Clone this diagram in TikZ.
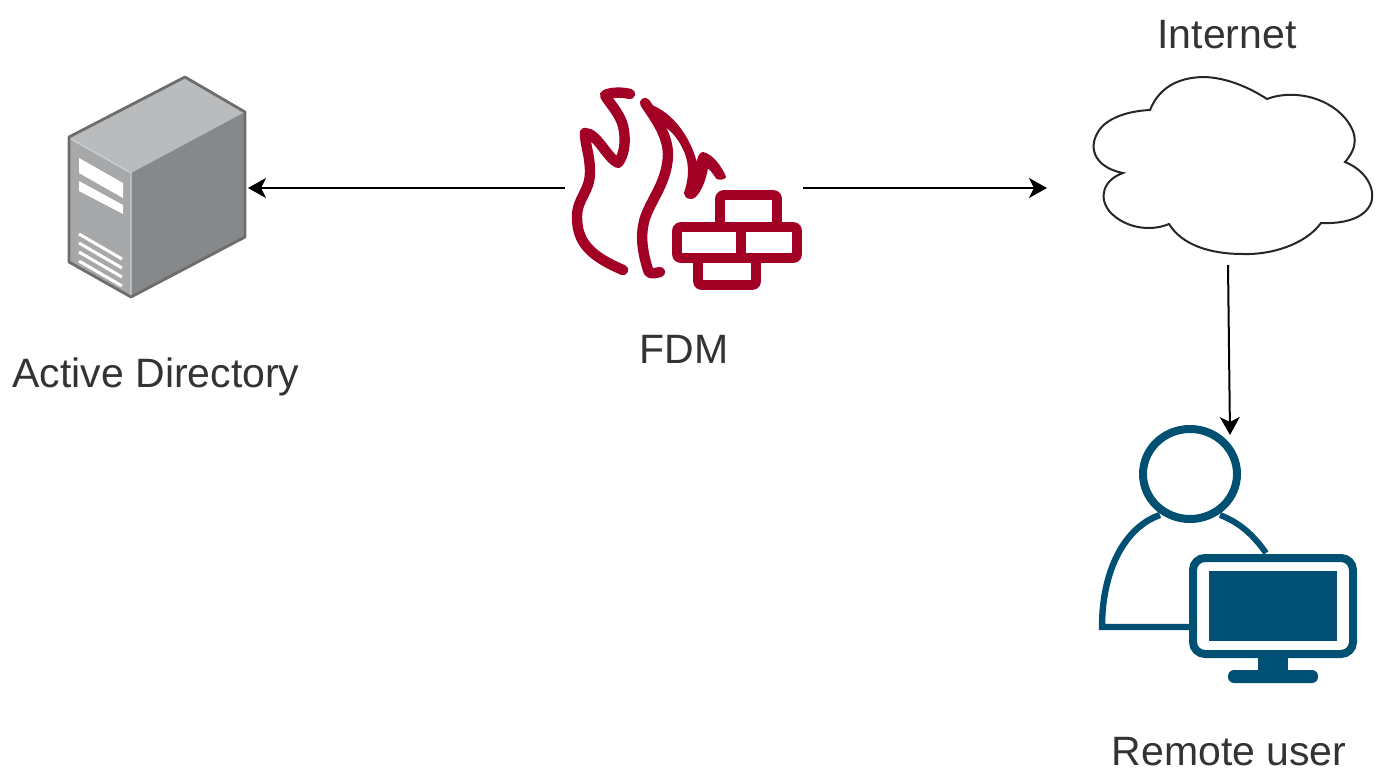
\documentclass[tikz,border=0pt]{standalone}
\usepackage{fontspec}
\setmainfont{Liberation Sans}
\usetikzlibrary{arrows.meta}
\definecolor{fdmred}{HTML}{A20025}
\definecolor{userblue}{HTML}{005073}
\definecolor{labelgray}{HTML}{333333}
\definecolor{servertop}{HTML}{B9BBBD}
\definecolor{serverfront}{HTML}{A6A8AA}
\definecolor{serverside}{HTML}{86888A}
\definecolor{serveredge}{HTML}{6B6D6F}
\tikzset{
    iconbox/.style={inner sep=0pt, outer sep=0pt},
    iconlabel/.style={font=\fontsize{20.5}{24}\selectfont, text=labelgray},
    link/.style={-{Stealth[length=9pt,width=10pt,inset=2.5pt]}, line width=1pt},
    flame/.style={fdmred, line width=5.2pt, line cap=round, line join=round},
    brick/.style={fdmred, line width=4.8pt, line join=round},
}
\begin{document}
\begin{tikzpicture}[x=0.5pt, y=-0.5pt]
    \useasboundingbox (0,0) rectangle (1380,776);

    % Server
    \node[iconbox, minimum width=89.5pt, minimum height=110pt] (server) at (158.5,188) {};
    \fill[serverfront] (69,137) -- (131,173) -- (131,297) -- (69,262) -- cycle;
    \fill[servertop] (69,137) -- (185,77) -- (245,112) -- (131,173) -- cycle;
    \fill[serverside] (131,173) -- (245,112) -- (245,237) -- (131,297) -- cycle;
    \draw[servertop!70!white, line width=0.6pt] (71,139) -- (131,173) -- (131,295);
    \draw[serveredge, line width=1.4pt, line join=round]
        (69,137) -- (185,77) -- (245,112) -- (245,237) -- (131,297) -- (69,262) -- cycle;
    \fill[white] (79,158) -- (123,183) -- (123,198) -- (79,173) -- cycle;
    \fill[white] (79,181) -- (123,205) -- (123,214) -- (79,191) -- cycle;
    \foreach \i in {0,1,2,3} {
        \draw[white, line width=1.5pt] (79,{234+\i*9}) -- (122,{259+\i*9});
    }

    % Firewall
    \node[iconbox, minimum width=119pt, minimum height=100pt] (fdm) at (684,188) {};
    \draw[flame] (623,270) .. controls (590,256) and (577,242) .. (577,217)
        .. controls (577,198) and (590,192) .. (590,172)
        .. controls (590,155) and (585,145) .. (585,133)
        .. controls (597,133) and (607,158) .. (618,163)
        .. controls (628,150) and (625,127) .. (620,118)
        .. controls (615,108) and (607,100) .. (605,95)
        .. controls (612,92) and (622,92) .. (630,94);
    \draw[flame] (660,272) .. controls (652,274) and (649,274) .. (648,270)
        .. controls (642,250) and (640,235) .. (645,218)
        .. controls (652,198) and (667,182) .. (668,155)
        .. controls (668,135) and (655,118) .. (645,103);
    \fill[fdmred, draw=fdmred, line width=1pt, line join=round]
        (642,103) .. controls (668,108) and (690,135) .. (697,167)
        .. controls (698,158) and (700,153) .. (703,153)
        .. controls (712,155) and (721,167) .. (725,177)
        .. controls (723,179) and (719,179) .. (717,178)
        .. controls (713,172) and (710,168) .. (707,167)
        .. controls (706,178) and (699,196) .. (692,198)
        .. controls (687,198) and (685,196) .. (685,193)
        .. controls (691,175) and (690,160) .. (683,147)
        .. controls (678,137) and (672,131) .. (667,127)
        .. controls (658,118) and (646,112) .. (642,103) -- cycle;
    \draw[brick, rounded corners=1.5pt] (720,227) -- (720,195) -- (777,195) -- (777,227);
    \draw[brick, rounded corners=1.5pt] (677,227) rectangle (797,258);
    \draw[brick] (741,227) -- (741,258);
    \draw[brick, rounded corners=1.5pt] (698,258) -- (698,285) -- (756,285) -- (756,258);

    % Cloud
    \node[iconbox, minimum width=145pt, minimum height=77pt] (internet) at (1228,188) {};
    \draw[black!85, line width=1pt, fill=white]
        (1123,173) .. controls (1097,168) and (1087,150) .. (1098,132)
        .. controls (1106,118) and (1128,111) .. (1150,110)
        .. controls (1160,85) and (1182,77) .. (1205,77)
        .. controls (1228,78) and (1250,88) .. (1267,99)
        .. controls (1290,90) and (1325,95) .. (1345,118)
        .. controls (1358,134) and (1358,147) .. (1345,162)
        .. controls (1365,170) and (1376,188) .. (1371,203)
        .. controls (1365,218) and (1345,224) .. (1321,223)
        .. controls (1305,245) and (1270,255) .. (1243,254)
        .. controls (1210,254) and (1182,245) .. (1169,224)
        .. controls (1150,232) and (1125,228) .. (1110,212)
        .. controls (1098,198) and (1103,180) .. (1123,173) -- cycle;

    % Remote user
    \node[iconbox, minimum width=129pt, minimum height=127.5pt] (remote) at (1230,562.5) {};
    \draw[userblue, line width=4pt] (1190,474) ellipse (47 and 45);
    \draw[userblue, line width=3pt]
        (1266,553) .. controls (1252,533) and (1238,522) .. (1220,515);
    \draw[userblue, line width=3.2pt]
        (1160,515) .. controls (1125,527) and (1102,570) .. (1102,627) -- (1192,627);
    \fill[white] (1191,556) rectangle (1355,656);
    \draw[userblue, line width=4pt, rounded corners=6pt] (1193,558) rectangle (1353,654);
    \fill[userblue] (1209,571) rectangle (1337,641);
    \fill[userblue] (1258,654) rectangle (1288,674);
    \fill[userblue, rounded corners=3pt] (1228,670) rectangle (1318,683);

    % Labels
    \node[iconbox, iconlabel] (serverlabel) at (156,377) {Active Directory};
    \node[iconbox, iconlabel] (fdmlabel) at (684,349) {FDM};
    \node[iconbox, iconlabel] (internetlabel) at (1227,35) {Internet};
    \node[iconbox, iconlabel] (remotelabel) at (1229,752) {Remote user};

    % Connectors
    \draw[link] (fdm.west) -- (server.east);
    \draw[link, shorten >=18pt] (fdm.east) -- (internet.west);
    \draw[link] (internet.south) -- (remote.north);
\end{tikzpicture}
\end{document}
